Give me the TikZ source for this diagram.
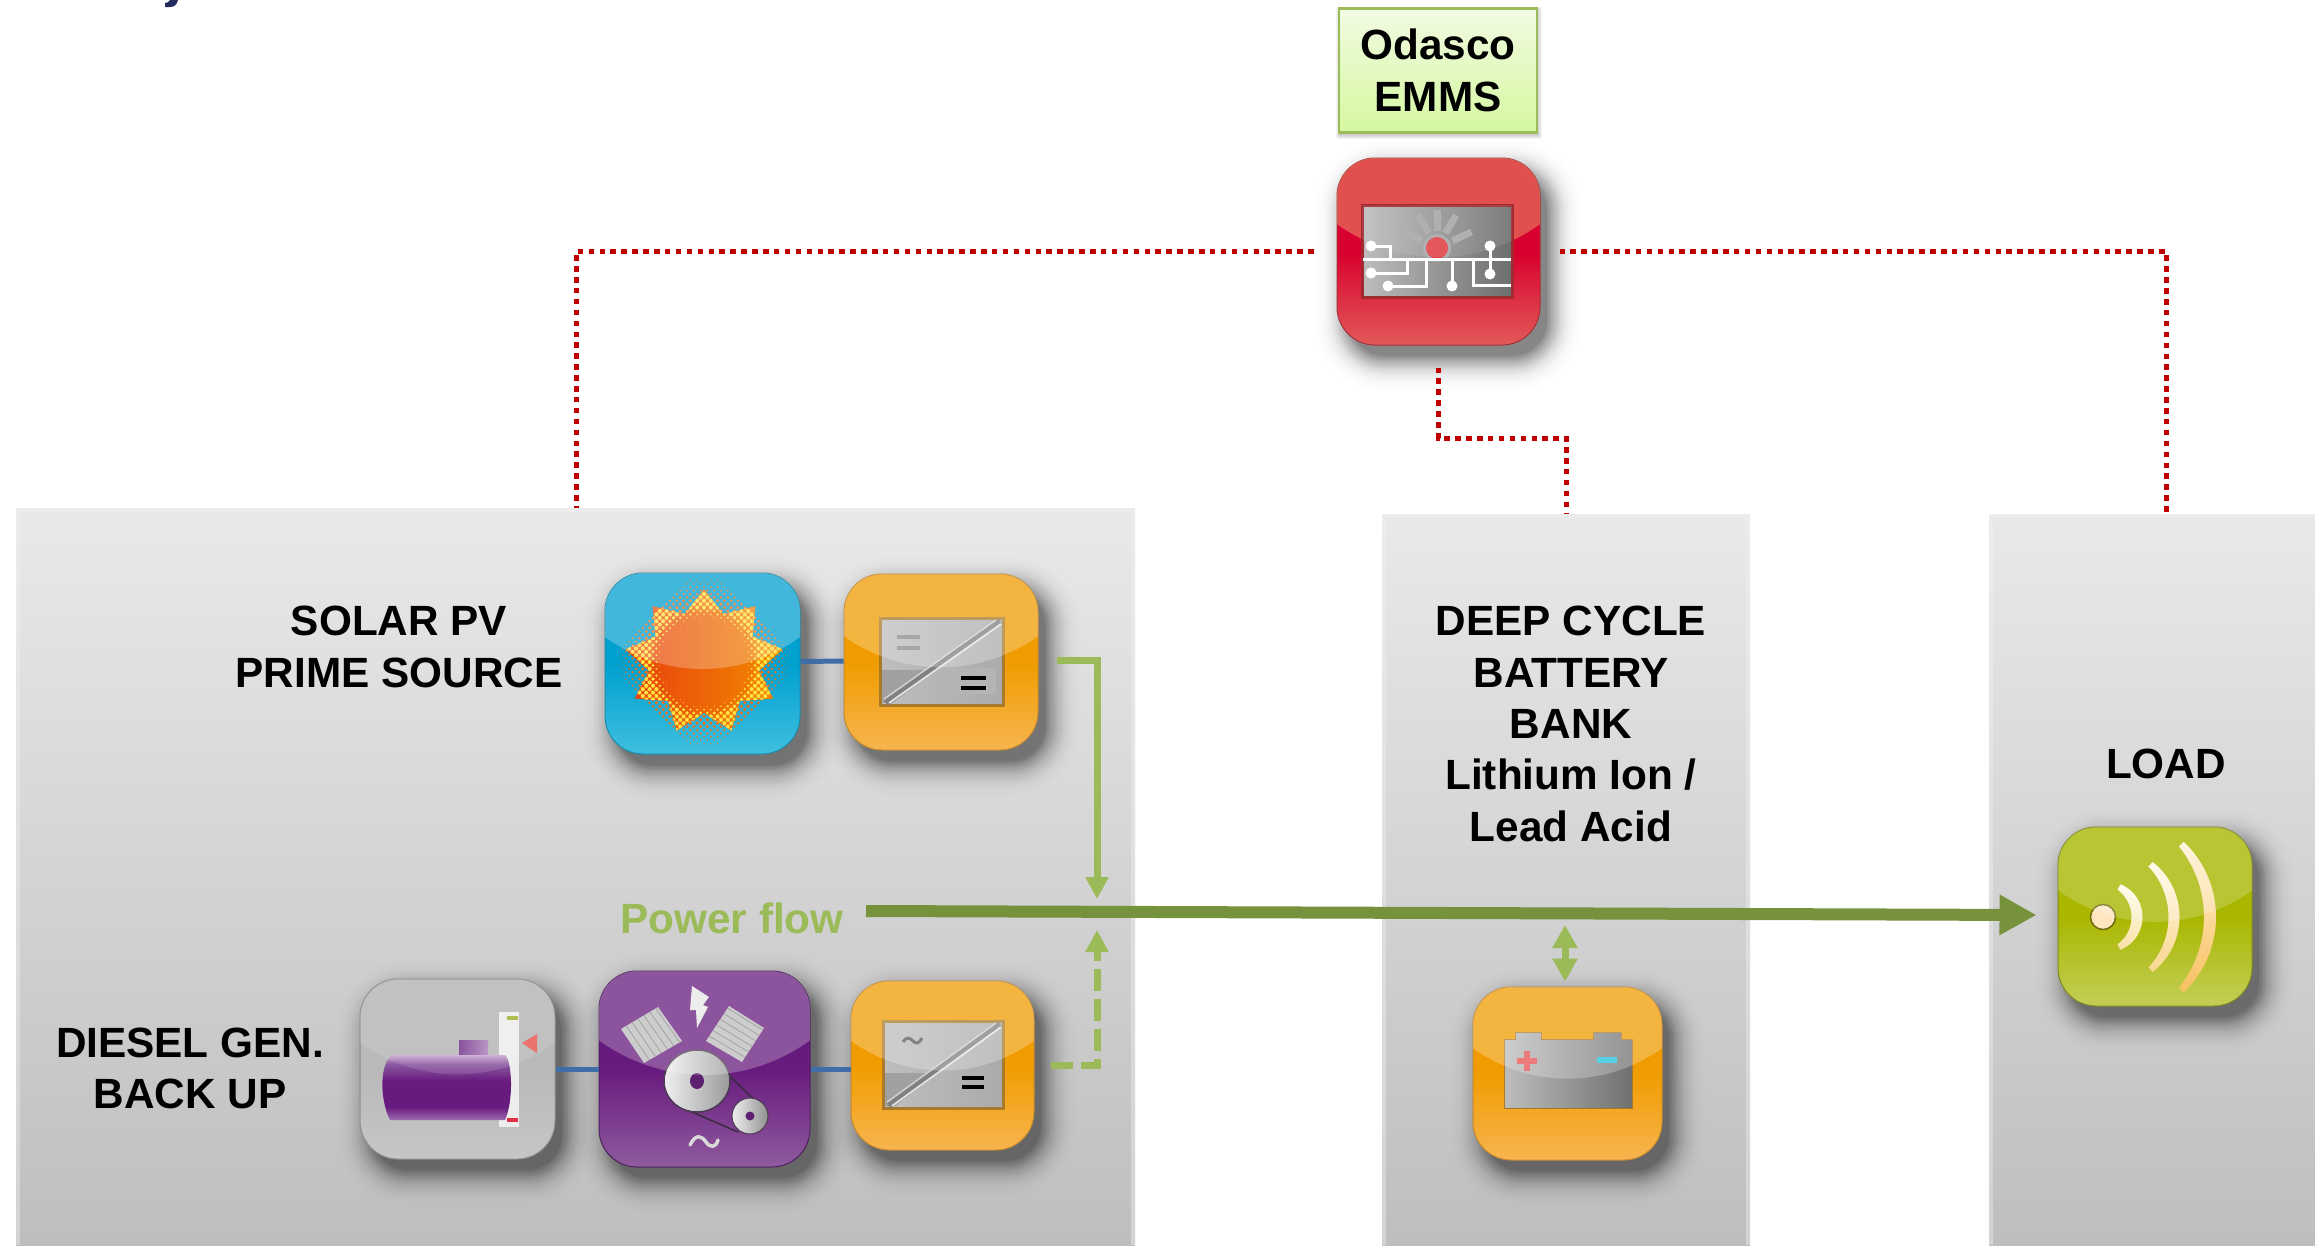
\documentclass[tikz,border=0pt]{standalone}
\usepackage{fontspec}
\setmainfont{Liberation Sans}
\usetikzlibrary{arrows.meta,calc}
\newcommand\hx[1]{\definecolor{#1}{HTML}{#1}}
\definecolor{navyink}{HTML}{232A5C}
\definecolor{flowdark}{HTML}{76923C}
\definecolor{flowlight}{HTML}{9BBB59}
\definecolor{ctrlred}{HTML}{C00000}
\definecolor{busblue}{HTML}{3F6DA6}
\hx{BEBEBE}\hx{ABABAB}\hx{A0A0A0}\hx{808080}\hx{E4E4E4}\hx{D0D0D0}\hx{A87A2A}
\hx{E9E9E9}\hx{D8002E}\hx{E25A58}\hx{A83038}\hx{BDBDBD}\hx{6E6E6E}\hx{A02A30}
\hx{A8A8A8}\hx{C4C4C4}\hx{E0454A}\hx{F1FBE2}\hx{D5F8A0}\hx{00A0CF}\hx{3FBFE0}
\hx{1C8CA8}\hx{FFD824}\hx{E8701E}\hx{E8400F}\hx{F28A00}\hx{F09C00}\hx{F7B550}
\hx{C48A2C}\hx{8A8A8A}\hx{B4B4B4}\hx{B9B9B9}\hx{C6C6C6}\hx{8E8E8E}\hx{EDEDED}
\hx{A6B23A}\hx{E0304A}\hx{E8605A}\hx{7A3C90}\hx{B088BE}\hx{681B7E}\hx{9A6AAE}
\hx{8F5B9E}\hx{4E2160}\hx{BDBDBE}\hx{E8E8E8}\hx{3A2A40}\hx{F0F0F0}\hx{9A9A9A}
\hx{4A3A50}\hx{5E2070}\hx{D8D8D8}\hx{909090}\hx{5A5A5A}\hx{707070}\hx{E85050}
\hx{20C0E0}\hx{A9B700}\hx{C4CE58}\hx{7E8A20}\hx{FFE6BE}\hx{6E6A10}\hx{FFFBEA}
\hx{F8E2A8}\hx{FFF9E4}\hx{F9D690}\hx{FFF3D6}\hx{F8C060}\hx{F4E48F}\hx{FFE040}
\hx{F2F2F2}\hx{C8A8D0}\hx{8A58A0}
\pgfdeclareverticalshading{tankbody}{100bp}{color(0bp)=(9A6AAE);color(25bp)=(9A6AAE);color(35bp)=(681B7E);color(55bp)=(681B7E);color(68bp)=(8A58A0);color(75bp)=(C8A8D0);color(100bp)=(C8A8D0)}
\tikzset{
  panelbox/.style={inner sep=0pt,top color=E9E9E9,bottom color=BEBEBE,draw=none},
  bevel/.style={draw=F2F2F2,line width=4pt,draw opacity=.4},
  lbl/.style={font=\fontsize{42.3}{51.3}\selectfont\bfseries,align=center,inner sep=0pt,text=black},
  ctrl/.style={draw=ctrlred,line width=5pt,dash pattern=on 5.5pt off 5.4pt},
  power/.style={draw=flowlight,line width=7pt,-{Triangle[length=22pt,width=22pt]}},
  busline/.style={draw=busblue,line width=5pt},
  whitewire/.style={draw=white,line width=3pt},
  appbase/.style n args={3}{inner sep=0pt,rounded corners=38pt,top color=#1,bottom color=#2,middle color=#1,draw=#3,line width=1pt},
}
\newcommand\softshadow[4]{%
  \foreach \k in {0,...,17}{%
    \pgfmathsetmacro\ee{-3+2.1*\k}%
    \pgfmathsetmacro\oo{.004+.08*(1-\k/17)*(1-\k/17)}%
    \fill[black,fill opacity=\oo,rounded corners={(38+\ee)*1pt}]
      ({#1+10-\ee},{#2+14-\ee}) rectangle ({#3+10+\ee},{#4+14+\ee});
  }}
% name, x1,y1,x2,y2, dark, bottom, rim
\newcommand\appicon[8]{%
  \softshadow{#2}{#3}{#4}{#5}%
  \node[appbase={#6}{#7}{#8},minimum width={(#4-#2)*1pt},minimum height={(#5-#3)*1pt}]
    (#1) at ({(#2+#4)/2},{(#3+#5)/2}) {};}
\newcommand\glossover[5][white,fill opacity=.25]{%
  \begin{scope}
    \clip[rounded corners=38pt] (#2,#3) rectangle (#4,#5);
    \fill[#1] (#2-1,#3-1) -- (#2-1,{#3+.35*(#5-#3)})
      .. controls ({#2+.3*(#4-#2)},{#3+.59*(#5-#3)}) and ({#4-.3*(#4-#2)},{#3+.59*(#5-#3)}) .. (#4+1,{#3+.35*(#5-#3)})
      -- (#4+1,#3-1) -- cycle;
  \end{scope}}
\newcommand\convscreen[4]{%
  \shade[left color=BEBEBE,right color=ABABAB,draw=A87A2A,line width=3pt] (#1,#2) rectangle (#3,#4);
  \fill[A0A0A0] (#1+2,#4-2) -- (#1+2,{#2+.6*(#4-#2)}) -- ({#1+.45*(#3-#1)},{#2+.6*(#4-#2)}) -- ({#1+.1*(#3-#1)},#4-2) -- cycle;
  \draw[808080,line width=6pt] (#1+6,#4-2) -- (#3-3,#2+3);
  \draw[E4E4E4,line width=1.8pt] (#1+9,#4-2) -- (#3-2,#2+6);
  \draw[D0D0D0,line width=1.4pt] (#1+4,#4-6) -- (#3-7,#2+2);}
% crescent round the loudspeaker point: mid radius, half angle, width, colours
\newcommand\wavearc[5]{%
  \shade[top color=#4,bottom color=#5]
    plot[domain=-#2:#2,samples=25,variable=\t] ({2103+(#1+#3/2*(1-.45*(\t/#2)*(\t/#2)))*cos(\t)},{917+(#1+#3/2*(1-.45*(\t/#2)*(\t/#2)))*sin(\t)})
    -- plot[domain=#2:-#2,samples=25,variable=\t] ({2103+(#1-#3/2*(1-.45*(\t/#2)*(\t/#2)))*cos(\t)},{917+(#1-#3/2*(1-.45*(\t/#2)*(\t/#2)))*sin(\t)})
    -- cycle;}
\begin{document}
\begin{tikzpicture}[x=1pt,y=-1pt]
\useasboundingbox (0,0) rectangle (2315,1245);
\fill[white] (0,0) rectangle (2315,1245);

% cut-off glyph of the slide title
\fill[navyink] (178,0) -- (170,0) .. controls (169,2) and (167,3) .. (165,3) -- (165,7) -- (170,7)
   .. controls (175,7) and (177,4) .. (178,0) -- cycle;

% panels
\node[panelbox,minimum width=1119pt,minimum height=737pt] (pvpanel) at (575.5,876.5) {};
\node[panelbox,minimum width=368pt,minimum height=731pt] (batpanel) at (1566,879.5) {};
\node[panelbox,minimum width=326pt,minimum height=731pt] (loadpanel) at (2152,879.5) {};
\draw[bevel] (18,1245) -- (18,510) -- (1133,510) -- (1133,1245);
\draw[bevel] (1384,1245) -- (1384,516) -- (1748,516) -- (1748,1245);
\draw[bevel] (1991,1245) -- (1991,516) -- (2315,516);

% icons: EMMS
\appicon{emms}{1337}{158}{1540}{345}{D8002E}{E25A58}{A83038}
\glossover[F4E48F,fill opacity=.35]{1337}{158}{1540}{345}
\shade[left color=BDBDBD,right color=6E6E6E,draw=A02A30,line width=3pt] (1362,205) rectangle (1512,297);
\foreach \a in {25,60,90,120,155}{
  \draw[A8A8A8,line width=7pt] ({1437+17*cos(\a)},{248-17*sin(\a)}) -- ({1437+38*cos(\a)},{248-38*sin(\a)});}
\fill[A8A8A8] (1437,248) circle[radius=14pt];
\fill[E0454A] (1437,248) circle[radius=11pt];
\draw[whitewire] (1363,259) -- (1511,259);
\draw[whitewire] (1371,246) -- (1390,246) -- (1390,259);
\draw[whitewire] (1371,273) -- (1407,273) -- (1407,259);
\draw[whitewire] (1388,286) -- (1426,286) -- (1426,259);
\draw[whitewire] (1452,286) -- (1452,259);
\draw[whitewire] (1511,285) -- (1473,285) -- (1473,259);
\draw[whitewire] (1490,246) -- (1490,274);
\foreach \px/\py in {1371/246,1371/273,1388/286,1452/286,1490/246,1490/274}{
  \fill[white] (\px,\py) circle[radius=5.5pt];}
\begin{scope}
  \clip (1362,205) rectangle (1512,297);
  \glossover[white,fill opacity=.1]{1337}{158}{1540}{345}
\end{scope}

% Odasco label
\foreach \k in {0,...,4}{\fill[black,fill opacity=.045] (1339-\k+1,8-\k+3) rectangle (1537+\k+1,132+\k+3);}
\node[lbl,top color=F1FBE2,bottom color=D5F8A0,draw=flowlight,line width=2.5pt,minimum width=198pt,minimum height=124pt] (emmslabel) at (1438,70.5) {Odasco\\EMMS};

% icons: sun
\appicon{sun}{605}{573}{800}{754}{00A0CF}{3FBFE0}{1C8CA8}
\begin{scope}[shift={(704,662)}]
  \foreach \i in {-14,...,14}{\foreach \j in {-14,...,14}{
    \pgfmathsetmacro\gx{(\i+\j)*3.4}\pgfmathsetmacro\gy{(\i-\j)*3.4}
    \pgfmathsetmacro\rr{sqrt(\gx*\gx+\gy*\gy)}
    \pgfmathsetmacro\ds{\rr<92?(\rr<60?1.8:1.9*(92-\rr)/32):0}
    \ifdim\ds pt>0.25pt \fill[E8701E] (\gx,\gy) circle[radius=\ds pt];\fi
  }}
  \begin{scope}
    \clip plot[samples at={0,...,17},variable=\t] ({(mod(\t,2)==0?80:56)*cos(90+\t*20)},{-(mod(\t,2)==0?73:51)*sin(90+\t*20)}) -- cycle;
    \shade[left color=E8400F,right color=F28A00] (-80,-75) rectangle (80,75);
    \foreach \i in {-14,...,14}{\foreach \j in {-14,...,14}{
      \pgfmathsetmacro\gx{(\i+\j)*3.4}\pgfmathsetmacro\gy{(\i-\j)*3.4}
      \pgfmathsetmacro\rr{sqrt(\gx*\gx+\gy*\gy)}
      \pgfmathsetmacro\ds{\rr>42?min(2.1,(\rr-42)/6):0}
      \ifdim\ds pt>0.25pt \fill[FFE040] (\gx,\gy) circle[radius=\ds pt];\fi
    }}
  \end{scope}
\end{scope}
\glossover{605}{573}{800}{754}

% icons: converter 1
\appicon{convA}{844}{574}{1038}{750}{F09C00}{F7B550}{C48A2C}
\convscreen{880}{618}{1003}{705}
\draw[8A8A8A,line width=3.2pt] (897,637) -- (920,637) (897,648) -- (920,648);
\fill[B4B4B4] (950,668) rectangle (996,694);
\draw[black,line width=3.6pt] (961,678) -- (986,678) (961,688) -- (986,688);
\glossover{844}{574}{1038}{750}

% icons: tank
\appicon{tank}{360}{979}{555}{1159}{B9B9B9}{C6C6C6}{8E8E8E}
\fill[EDEDED] (499,1012) rectangle (519,1127);
\fill[A6B23A] (507,1016) rectangle (518,1020);
\fill[E0304A] (507,1118) rectangle (518,1122);
\fill[E8605A] (522,1043) -- (537,1034) -- (537,1053) -- cycle;
\shade[left color=7A3C90,right color=B088BE] (459,1040) rectangle (488,1058);
\shade[shading=tankbody] (392,1055) -- (505,1055) .. controls (512,1060) and (514,1100) .. (505,1120) -- (390,1120) .. controls (380,1100) and (379,1065) .. (392,1055) -- cycle;
\glossover[white,fill opacity=.12]{360}{979}{555}{1159}

% icons: generator
\appicon{gen}{599}{971}{810}{1167}{681B7E}{8F5B9E}{4E2160}
\foreach \ax/\ay/\bx/\by/\cx/\cy/\ex/\ey in {621/1029/658/1007/682/1041/644/1063,706/1041/729/1006/764/1028/742/1062}{
  \fill[BDBDBE] (\ax,\ay) -- (\bx,\by) -- (\cx,\cy) -- (\ex,\ey) -- cycle;
  \foreach \s in {.14,.3,.46,.62,.78,.94}{
    \draw[8A8A8A,line width=.9pt] ({\ax+\s*(\bx-\ax)},{\ay+\s*(\by-\ay)}) -- ({\ex+\s*(\cx-\ex)},{\ey+\s*(\cy-\ey)});}
  }
\fill[E8E8E8] (692,986) -- (709,997) -- (703,1005) -- (708,1007) -- (697,1028) -- (696,1010) -- (690,1010) -- cycle;
\draw[3A2A40,line width=1.5pt] (715,1062) -- (763,1108) (676,1105) -- (738,1132);
\shade[left color=F0F0F0,right color=9A9A9A,draw=4A3A50,line width=1.5pt] (697,1081) circle[x radius=33pt,y radius=31pt];
\fill[5E2070] (697,1081) circle[x radius=7pt,y radius=8pt];
\shade[left color=F0F0F0,right color=909090,draw=4A3A50,line width=1pt] (750,1116) circle[x radius=18pt,y radius=18pt];
\fill[5E2070] (750,1116) circle[radius=4.5pt];
\draw[D8D8D8,line width=3.5pt,line cap=round] (690,1145) .. controls (696,1133) and (702,1136) .. (706,1142) .. controls (710,1148) and (716,1148) .. (718,1140);
\glossover{599}{971}{810}{1167}

% icons: converter 2
\appicon{convB}{851}{981}{1034}{1150}{F09C00}{F7B550}{C48A2C}
\convscreen{883}{1021}{1003}{1108}
\draw[5A5A5A,line width=3pt] (903,1042) .. controls (907,1036) and (910,1038) .. (913,1041) .. controls (916,1044) and (919,1044) .. (922,1038);
\draw[black,line width=3.6pt] (962,1078) -- (984,1078) (962,1087) -- (984,1087);
\glossover{851}{981}{1034}{1150}

% icons: battery
\appicon{battery}{1473}{987}{1662}{1160}{F09C00}{F7B550}{C48A2C}
\shade[left color=BDBDBD,right color=707070,draw=A87A2A,line width=1pt] (1504,1039) -- (1515,1039) -- (1515,1032) -- (1541,1032) -- (1541,1039) -- (1593,1039) -- (1593,1032) -- (1621,1032) -- (1621,1039) -- (1632,1039) -- (1632,1108) -- (1504,1108) -- cycle;
\draw[E85050,line width=6pt] (1517,1061) -- (1537,1061) (1527,1051) -- (1527,1071);
\fill[20C0E0] (1597,1057) rectangle (1617,1063);
\glossover{1473}{987}{1662}{1160}

% icons: load
\appicon{load}{2058}{827}{2252}{1006}{A9B700}{C4CE58}{7E8A20}
\fill[FFE6BE,draw=6E6A10,line width=1.5pt] (2103,917) circle[radius=12.5pt];
\wavearc{34}{62}{11}{FFFBEA}{F8E2A8}
\wavearc{71}{48}{11}{FFF9E4}{F9D690}
\wavearc{107}{43}{12}{FFF3D6}{F8C060}
\glossover[white,fill opacity=.2]{2058}{827}{2252}{1006}

% blue links
\draw[busline] ([yshift=2pt]sun.east) -- ([yshift=1pt]convA.west);
\draw[busline] (tank.east) -- (gen.west);
\draw[busline] (gen.east) -- (gen.east -| convB.west);

% control lines
\coordinate (solartap) at (576,508);
\coordinate (loadtap) at (2166,514);
\coordinate (battap) at (1566,514);
\coordinate (batbend) at (1566,438);
\draw[ctrl] ([xshift=-23pt]emms.west) -| (solartap);
\draw[ctrl] ([xshift=19pt]emms.east) -| (loadtap);
\draw[ctrl] ([yshift=-22pt]emms.south) |- (batbend) -- (battap);

% power lines
\coordinate (pvout) at (1057,660);
\coordinate (dgout) at (1051,1065);
\coordinate (joinN) at (1097,899);
\coordinate (joinS) at (1097,930);
\coordinate (flowstart) at (866,911);
\draw[power] (pvout) -| (joinN);
\draw[power,dash pattern=on 22pt off 8pt] (dgout) -| (joinS);
\draw[draw=flowdark,line width=12pt,-{Triangle[length=37pt,width=38pt]}] (flowstart) -- ([xshift=-21pt,yshift=1.5pt]load.west);
\draw[draw=flowlight,line width=7pt,{Triangle[length=23pt,width=24pt]}-{Triangle[length=23pt,width=24pt]}] (1565,925) -- ([xshift=-2.5pt,yshift=5pt]battery.north);

% text
\node[lbl] (solarlbl) at (399,647) {SOLAR PV\\PRIME SOURCE};
\node[lbl] (diesellbl) at (190,1068.5) {DIESEL GEN.\\BACK UP};
\node[lbl] (batlbl) at (1571,724) {DEEP CYCLE\\BATTERY\\BANK\\Lithium Ion /\\Lead Acid};
\node[lbl] (loadlbl) at (2166,764) {LOAD};
\node[lbl,text=flowlight] (flowlbl) at (732,918) {Power flow};
\end{tikzpicture}
\end{document}
